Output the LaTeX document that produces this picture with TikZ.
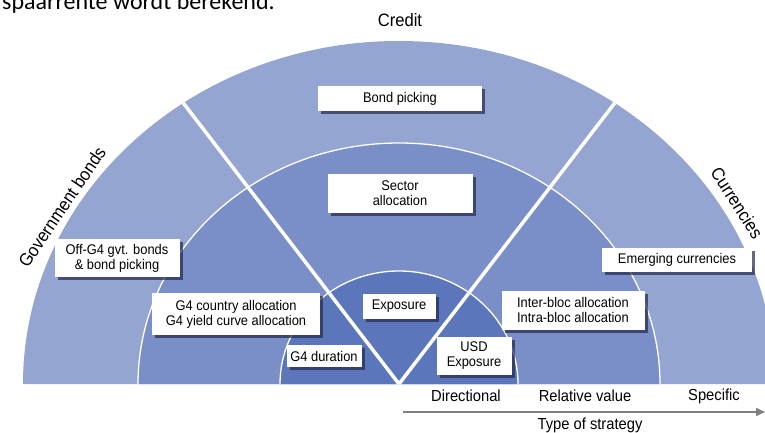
\documentclass[tikz,border=0pt]{standalone}
\usepackage{fontspec}
\setmainfont{Liberation Sans}[FakeStretch=0.92]
\newfontfamily\pagefont{Carlito}
\usetikzlibrary{arrows.meta,shadows}

\definecolor{ringout}{RGB}{148,165,210}
\definecolor{ringmid}{RGB}{122,143,200}
\definecolor{ringin}{RGB}{91,118,186}
\definecolor{shadowblue}{RGB}{35,40,75}

\begin{document}
\begin{tikzpicture}[x=1pt,y=1pt,
	box/.style={fill=white,inner sep=0pt,align=center,font=\fontsize{14}{15}\selectfont,
		drop shadow={shadow xshift=3pt,shadow yshift=-3pt,fill=shadowblue,opacity=.7}},
	sector/.style={white,line width=1.3pt},
	divider/.style={white,line width=3.5pt},
	lab/.style={font=\fontsize{16}{17}\selectfont},
	head/.style={font=\fontsize{18}{19}\selectfont}]

	\useasboundingbox (0,0) rectangle (765,432);
	\clip (0,0) rectangle (765,432);

	\node[anchor=base west,inner sep=0pt,font=\pagefont\fontsize{24}{28}\selectfont] (page) at (2,422) {spaarrente wordt berekend.};

	\coordinate (c) at (399,48);
	\fill[ringout] (c) ++(-376,0) arc[start angle=180,end angle=0,x radius=376pt,y radius=343pt] -- cycle;
	\fill[ringmid] (c) ++(-261,0) arc[start angle=180,end angle=0,x radius=261pt,y radius=241pt] -- cycle;
	\fill[ringin] (c) ++(-119,0) arc[start angle=180,end angle=0,x radius=119pt,y radius=113pt] -- cycle;
	\draw[sector] (c) ++(-261,0) arc[start angle=180,end angle=0,x radius=261pt,y radius=241pt];
	\draw[sector] (c) ++(-119,0) arc[start angle=180,end angle=0,x radius=119pt,y radius=113pt];

	\path (c) ++(125:376pt and 343pt) coordinate (edgeL);
	\path (c) ++(55:376pt and 343pt) coordinate (edgeR);
	\draw[divider] (c) -- (edgeL);
	\draw[divider] (c) -- (edgeR);

	\node[head] (credit) at (400,412) {Credit};
	\node[head,rotate=56] (govt) at (62,225) {Government bonds};
	\node[head,rotate=-57] (curr) at (737,229) {Currencies};

	\node[box,minimum width=164pt,minimum height=25pt] (bond) at (400,333.5) {Bond picking};
	\node[box,minimum width=145pt,minimum height=39pt] (sector) at (400,239) {Sector\\allocation};
	\node[box,minimum width=125pt,minimum height=38pt] (offg4) at (117,174) {Off-G4 gvt. bonds\\\& bond picking};
	\node[box,minimum width=150pt,minimum height=24pt] (emerg) at (677,172) {Emerging currencies};
	\node[box,minimum width=168pt,minimum height=42pt] (g4alloc) at (236,118) {G4 country allocation\\G4 yield curve allocation};
	\node[box,minimum width=75pt,minimum height=22pt] (g4dur) at (324,76) {G4 duration};
	\node[box,minimum width=73pt,minimum height=25pt] (expo) at (399,126) {Exposure};
	\node[box,minimum width=75pt,minimum height=38pt] (usd) at (474,76) {USD\\Exposure};
	\node[box,minimum width=143pt,minimum height=39pt] (bloc) at (573,122) {Inter-bloc allocation\\Intra-bloc allocation};

	\node[lab] (dir) at (466,36) {Directional};
	\node[lab] (rel) at (585,36) {Relative value};
	\node[lab] (spec) at (714,36) {Specific};
	\coordinate (axL) at (403,20);
	\coordinate (axR) at (765,20);
	\draw[gray,line width=1.5pt,-{Triangle[length=9pt,width=8pt]}] (axL) -- (axR);
	\node[lab] (type) at (590,7) {Type of strategy};
\end{tikzpicture}
\end{document}
